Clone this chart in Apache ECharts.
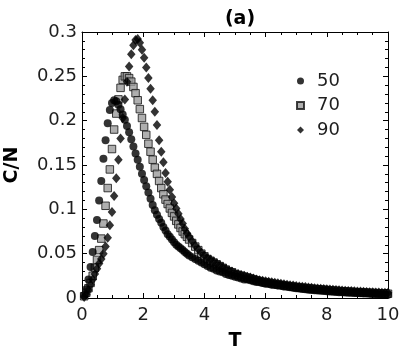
<!DOCTYPE html>
<html>
<head>
<meta charset="utf-8">
<script src="https://cdn.jsdelivr.net/npm/echarts@6/dist/echarts.min.js"></script>
<style>html,body{margin:0;padding:0;background:#fff}#c{width:415px;height:361px}</style>
</head>
<body>
<div id="c"></div>
<script>
// Temperature grid (x values)
var T = [0.07,0.14,0.21,0.28,0.35,0.42,0.49,0.56,0.63,0.70,0.77,0.84,0.91,0.98,1.05,1.12,1.19,1.26,1.33,1.40,
  1.47,1.54,1.61,1.68,1.75,1.82,1.89,1.96,2.03,2.10,2.17,2.24,2.31,2.38,2.45,2.52,2.59,2.66,2.73,2.80,
  2.87,2.94,3.01,3.08,3.15,3.22,3.29,3.36,3.43,3.50,
  3.6,3.7,3.8,3.9,4.0,4.1,4.2,4.3,4.4,4.5,4.6,4.7,4.8,4.9,5.0,5.1,5.2,5.3,5.4,5.5,5.6,5.7,5.8,5.9,
  6.0,6.1,6.2,6.3,6.4,6.5,6.6,6.7,6.8,6.9,
  7.0,7.1,7.2,7.3,7.4,7.5,7.6,7.7,7.8,7.9,8.0,8.1,8.2,8.3,8.4,8.5,8.6,8.7,8.8,8.9,
  9.0,9.1,9.2,9.3,9.4,9.5,9.6,9.7,9.8,9.9,10.0];

var c50 = [0.003,0.010,0.021,0.035,0.052,0.070,0.088,0.110,0.132,0.157,0.178,0.197,0.212,0.220,0.223,0.222,0.218,0.213,0.207,0.201,
  0.194,0.187,0.179,0.171,0.163,0.156,0.148,0.140,0.133,0.126,0.119,0.112,0.105,0.099,0.094,0.089,0.085,0.080,0.076,0.072,
  0.069,0.066,0.063,0.060,0.058,0.056,0.054,0.052,0.050,0.048,
  0.046,0.044,0.042,0.040,0.038,0.036,0.034,0.033,0.031,0.030,0.029,0.027,0.026,0.025,0.024,0.023,0.022,0.021,0.021,0.020,0.019,0.018,0.018,0.017,
  0.016,0.016,0.015,0.015,0.014,0.014,0.013,0.013,0.012,0.0115,
  0.0110,0.0106,0.0102,0.0098,0.0094,0.0090,0.0087,0.0084,0.0081,0.0078,0.0076,0.0073,0.0071,0.0068,0.0066,0.0064,0.0062,0.0060,0.0058,0.0057,
  0.0055,0.0053,0.0051,0.0050,0.0048,0.0046,0.0045,0.0043,0.0041,0.0040,0.0038];

var c70 = [0.002,0.006,0.011,0.017,0.025,0.034,0.043,0.054,0.067,0.084,0.104,0.124,0.145,0.168,0.190,0.208,0.224,0.237,0.246,0.250,
  0.250,0.248,0.244,0.238,0.231,0.223,0.213,0.203,0.193,0.184,0.174,0.165,0.156,0.147,0.140,0.132,0.124,0.117,0.111,0.106,
  0.101,0.096,0.092,0.087,0.083,0.079,0.075,0.072,0.069,0.066,
  0.062,0.058,0.054,0.050,0.047,0.044,0.042,0.040,0.038,0.036,0.034,0.032,0.030,0.029,0.027,0.026,0.025,0.024,0.023,0.022,0.021,0.020,0.019,0.018,
  0.0175,0.0170,0.0163,0.0157,0.0151,0.0146,0.0141,0.0136,0.0131,0.0127,
  0.0122,0.0118,0.0114,0.0111,0.0107,0.0104,0.0101,0.0098,0.0095,0.0092,0.0089,0.0086,0.0083,0.0081,0.0078,0.0076,0.0074,0.0071,0.0069,0.0067,
  0.0065,0.0063,0.0061,0.0060,0.0058,0.0056,0.0055,0.0053,0.0051,0.0050,0.0048];

var c90 = [0.001,0.004,0.009,0.015,0.021,0.027,0.033,0.039,0.044,0.050,0.058,0.068,0.082,0.097,0.115,0.135,0.156,0.180,0.203,0.224,
  0.244,0.261,0.275,0.285,0.291,0.292,0.288,0.280,0.271,0.260,0.248,0.236,0.223,0.210,0.195,0.178,0.165,0.153,0.141,0.131,
  0.122,0.114,0.107,0.101,0.095,0.089,0.084,0.078,0.073,0.069,
  0.064,0.059,0.055,0.051,0.048,0.045,0.043,0.041,0.039,0.037,0.035,0.033,0.031,0.030,0.028,0.027,0.026,0.025,0.024,0.023,0.022,0.021,0.020,0.0195,
  0.019,0.0184,0.0178,0.0172,0.0166,0.0160,0.0155,0.0150,0.0145,0.0140,
  0.0135,0.0131,0.0127,0.0123,0.0119,0.0115,0.0111,0.0108,0.0105,0.0102,0.0099,0.0096,0.0093,0.0090,0.0088,0.0085,0.0083,0.0080,0.0078,0.0076,
  0.0074,0.0072,0.0070,0.0068,0.0066,0.0064,0.0063,0.0061,0.0060,0.0059,0.0058];

var seriesNames = ['50','70','90'];
var xTicks = {min:0, max:10, interval:2};
var yTicks = {min:0, max:0.3, interval:0.05};

function pairs(ys){ return T.map(function(t,i){ return [t, ys[i]]; }); }

var FONT = 'DejaVu Sans';
var TXT = '#1e1e1e';

function xAx(pos, show){
  return {
    type:'value', position:pos, min:xTicks.min, max:xTicks.max, interval:xTicks.interval,
    axisLine:{show:true, onZero:false, lineStyle:{color:'#000', width:1}},
    axisTick:{show:true, inside:true, length:5, lineStyle:{color:'#000'}},
    minorTick:{show:true, splitNumber:4, length:3, lineStyle:{color:'#000'}},
    splitLine:{show:false},
    axisLabel:{show:show, fontFamily:FONT, fontSize:18, color:TXT, margin:8},
    name: show ? 'T' : '', nameLocation:'middle', nameGap:34,
    nameTextStyle:{fontFamily:FONT, fontSize:19, fontWeight:'bold', color:'#000'}
  };
}
function yAx(pos, show){
  return {
    type:'value', position:pos, min:yTicks.min, max:yTicks.max, interval:yTicks.interval,
    axisLine:{show:true, onZero:false, lineStyle:{color:'#000', width:1}},
    axisTick:{show:true, inside:true, length:5, lineStyle:{color:'#000'}},
    minorTick:{show:true, splitNumber:5, length:3, lineStyle:{color:'#000'}},
    splitLine:{show:false},
    axisLabel:{show:show, fontFamily:FONT, fontSize:18, color:TXT, margin:5},
    name: show ? 'C/N' : '', nameLocation:'middle', nameGap:60, nameRotate:90,
    nameTextStyle:{fontFamily:FONT, fontSize:19, fontWeight:'bold', color:'#000'}
  };
}

var chart = echarts.init(document.getElementById('c'), null, {renderer:'canvas'});
chart.setOption({
  animation:false,
  backgroundColor:'#fff',
  title:{text:'(a)', left:235, textAlign:'center', top:5,
    textStyle:{fontFamily:FONT, fontSize:19, fontWeight:'bold', color:'#000'}},
  grid:{left:82, right:27, top:32, bottom:63, containLabel:false, outerBoundsMode:'none'},
  legend:{
    orient:'vertical', left:291, top:67, itemGap:6.5, itemWidth:7, itemHeight:7,
    textStyle:{fontFamily:FONT, fontSize:18, color:TXT, padding:[0,0,0,8]},
    data:[
      {name:seriesNames[0], icon:'circle'},
      {name:seriesNames[1], icon:'rect'},
      {name:seriesNames[2], icon:'diamond'}
    ]
  },
  xAxis:[xAx('bottom', true), xAx('top', false)],
  yAxis:[yAx('left', true), yAx('right', false)],
  series:[
    {name:seriesNames[1], type:'scatter', data:pairs(c70), symbol:'rect', symbolSize:7.5, z:2,
      itemStyle:{color:'#9b9b9b', borderColor:'#111', borderWidth:1}, clip:false},
    {name:seriesNames[2], type:'scatter', data:pairs(c90), symbol:'diamond', symbolSize:[8.5,10], z:3,
      itemStyle:{color:'#000'}, clip:false},
    {name:seriesNames[0], type:'scatter', data:pairs(c50), symbol:'circle', symbolSize:8, z:4,
      itemStyle:{color:'#000'}, clip:false}
  ]
});
</script>
</body>
</html>
